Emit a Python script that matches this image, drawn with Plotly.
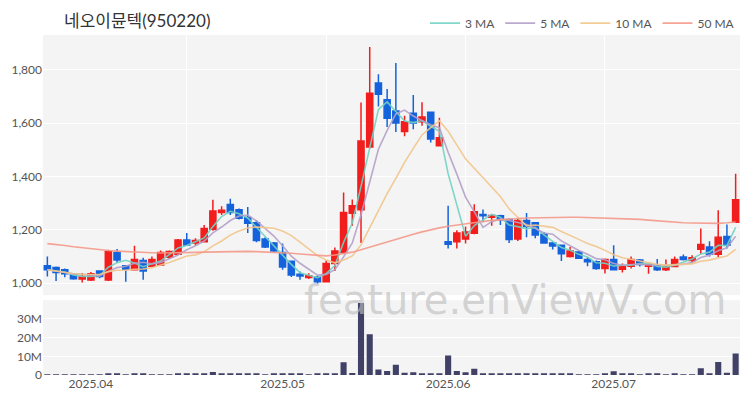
import plotly.graph_objects as go
import pandas as pd

# ---------------- data ----------------
holidays = ['2025-05-01', '2025-05-05', '2025-05-06', '2025-06-03', '2025-06-06']
dates = [d.strftime('%Y-%m-%d') for d in pd.bdate_range('2025-03-25', '2025-07-21')
         if d.strftime('%Y-%m-%d') not in holidays]

open_ = [1065, 1058, 1050, 1032, 1015, 1012, 1045, 1012, 1115, 1065,
         1050, 1085, 1063, 1068, 1097, 1108, 1162, 1150, 1155, 1202,
         1265, 1295, 1275, 1246, 1226, 1165, 1150, 1115, 1082, 1033,
         1021, 1022, 1005, 1073, 1115, 1262, 1275, 1510, 1750, 1687,
         1645, 1568, 1637, 1605, 1640, 1515, 1155, 1155, 1165, 1187,
         1257, 1247, 1252, 1238, 1165, 1235, 1226, 1183, 1150, 1142,
         1100, 1117, 1088, 1080, 1055, 1088, 1052, 1063, 1087, 1063,
         1065, 1050, 1062, 1098, 1085, 1127, 1135, 1108, 1175, 1228]
high = [1100, 1062, 1055, 1038, 1038, 1042, 1048, 1125, 1128, 1067,
        1140, 1095, 1100, 1122, 1122, 1165, 1188, 1168, 1218, 1312,
        1288, 1316, 1280, 1285, 1236, 1172, 1154, 1148, 1085, 1043,
        1037, 1028, 1085, 1133, 1340, 1313, 1677, 1885, 1783, 1728,
        1825, 1627, 1705, 1678, 1640, 1620, 1290, 1198, 1212, 1296,
        1276, 1256, 1256, 1242, 1242, 1263, 1229, 1192, 1154, 1142,
        1135, 1120, 1098, 1085, 1092, 1142, 1073, 1100, 1090, 1069,
        1090, 1088, 1100, 1107, 1104, 1205, 1157, 1273, 1220, 1410]
low = [1025, 1008, 1022, 1013, 1002, 1008, 1018, 1008, 1075, 1005,
       1050, 1013, 1060, 1065, 1090, 1105, 1140, 1142, 1152, 1196,
       1255, 1255, 1238, 1188, 1153, 1132, 1115, 1050, 1023, 1013,
       1015, 998, 1003, 1045, 1110, 1215, 1150, 1505, 1662, 1585,
       1566, 1550, 1577, 1590, 1527, 1512, 1130, 1130, 1148, 1183,
       1228, 1215, 1218, 1150, 1158, 1172, 1168, 1148, 1126, 1083,
       1096, 1090, 1063, 1050, 1036, 1048, 1040, 1055, 1062, 1035,
       1045, 1045, 1060, 1085, 1077, 1108, 1100, 1098, 1130, 1227]
close = [1050, 1040, 1035, 1016, 1025, 1035, 1025, 1118, 1087, 1052,
         1088, 1045, 1088, 1115, 1118, 1162, 1143, 1160, 1205, 1270,
         1273, 1265, 1243, 1224, 1160, 1135, 1120, 1060, 1030, 1027,
         1028, 1005, 1073, 1120, 1265, 1290, 1533, 1712, 1708, 1618,
         1600, 1605, 1600, 1623, 1540, 1545, 1146, 1188, 1192, 1267,
         1252, 1253, 1237, 1163, 1235, 1212, 1180, 1150, 1139, 1110,
         1120, 1093, 1080, 1055, 1088, 1050, 1062, 1088, 1070, 1068,
         1050, 1062, 1088, 1088, 1095, 1145, 1108, 1172, 1142, 1312]
volume = [300000, 250000, 200000, 200000, 250000, 300000, 250000, 900000, 500000, 350000,
          500000, 450000, 300000, 350000, 300000, 500000, 450000, 450000, 800000, 1600000,
          600000, 700000, 500000, 500000, 450000, 350000, 500000, 600000, 550000, 500000,
          350000, 500000, 600000, 600000, 6800000, 1100000, 38500000, 21800000, 3000000, 2200000,
          5500000, 1200000, 1500000, 1000000, 1000000, 800000, 10400000, 2200000, 1500000, 3400000,
          700000, 800000, 600000, 800000, 700000, 700000, 600000, 500000, 600000, 600000,
          500000, 400000, 400000, 400000, 600000, 2000000, 500000, 600000, 400000, 500000,
          600000, 400000, 500000, 400000, 400000, 3600000, 800000, 7000000, 1200000, 11500000]
ma50 = [1148, 1145, 1141, 1136, 1132, 1128, 1125, 1122, 1120, 1118,
        1116, 1115, 1114, 1113, 1113, 1113, 1114, 1115, 1116, 1117,
        1118, 1119, 1119, 1119, 1118, 1117, 1116, 1114, 1112, 1109,
        1106, 1103, 1102, 1105, 1110, 1116, 1125, 1135, 1145, 1155,
        1165, 1174, 1183, 1192, 1200, 1207, 1213, 1218, 1222, 1227,
        1231, 1235, 1238, 1240, 1242, 1244, 1245, 1246, 1247, 1247,
        1247, 1247, 1246, 1246, 1245, 1244, 1243, 1241, 1239, 1236,
        1233, 1230, 1228, 1226, 1225, 1224, 1224, 1224, 1226, 1229]

month_ticks = ['2025-04-01', '2025-05-02', '2025-06-02', '2025-07-01']
month_labels = ['2025.04', '2025.05', '2025.06', '2025.07']
price_ticks = [1000, 1200, 1400, 1600, 1800]
vol_ticks = [0, 10000000, 20000000, 30000000]
vol_labels = ['0', '10M', '20M', '30M']

# ---------------- figure ----------------
RED = '#f21d1d'
BLUE = '#1563dc'
VOL = '#414168'
FONT = 'Lato, Noto Sans CJK KR, sans-serif'

cs = pd.Series(close)
ma3 = cs.rolling(3, min_periods=1).mean().tolist()
ma5 = cs.rolling(5, min_periods=1).mean().tolist()
ma10 = cs.rolling(10, min_periods=1).mean().tolist()

n = len(dates)
xr = [-0.5, n - 0.5]

fig = go.Figure()
fig.add_trace(go.Candlestick(
    x=dates, open=open_, high=high, low=low, close=close,
    increasing=dict(line=dict(color=RED, width=1.5), fillcolor=RED),
    decreasing=dict(line=dict(color=BLUE, width=1.5), fillcolor=BLUE),
    whiskerwidth=0, showlegend=False, xaxis='x', yaxis='y', hoverinfo='skip'))

for name, vals, color in [('3 MA', ma3, '#72d3c4'), ('5 MA', ma5, '#b3a1c9'),
                          ('10 MA', ma10, '#f2c68c'), ('50 MA', ma50, '#f59a8a')]:
    fig.add_trace(go.Scatter(x=dates, y=vals, mode='lines', name=name,
                             line=dict(color=color, width=1.6), opacity=0.9,
                             xaxis='x', yaxis='y'))

fig.add_trace(go.Bar(x=dates, y=volume, marker=dict(color=VOL, line=dict(width=0)),
                     showlegend=False, xaxis='x2', yaxis='y2'))

# the page body adds an 8px offset; margins compensate so the plot sits at x 43-740, y 35-375
fig.update_layout(
    width=750, height=400,
    margin=dict(l=35, r=18, t=27, b=33, autoexpand=False),
    paper_bgcolor='white', plot_bgcolor='#f4f4f4',
    font=dict(family=FONT, size=12, color='#555'),
    bargap=0.3,
    boxgap=0.3, boxgroupgap=0,
    showlegend=True,
    legend=dict(orientation='h', x=1.0, xanchor='right', y=1.035, yanchor='middle',
                font=dict(size=12, color='#555'), bgcolor='rgba(0,0,0,0)',
                itemwidth=30, tracegroupgap=0),
    xaxis=dict(type='category', anchor='y', domain=[0, 1], range=xr, autorange=False,
               rangeslider=dict(visible=False), showticklabels=False,
               tickmode='array', tickvals=[dates[16], dates[32], dates[48], dates[64]],
               showgrid=True, gridcolor='white', gridwidth=1, ticks='', showline=False,
               zeroline=False, automargin=False),
    yaxis=dict(domain=[0.235, 1], range=[955, 1930], tickmode='array', tickvals=price_ticks,
               tickformat=',', showgrid=True, gridcolor='white', gridwidth=1,
               zeroline=False, showline=False, ticks='', automargin=False,
               tickfont=dict(size=12, color='#555')),
    xaxis2=dict(type='category', anchor='y2', domain=[0, 1], range=xr, autorange=False,
                tickmode='array', tickvals=month_ticks, ticktext=month_labels,
                showgrid=False, ticks='', showline=False, zeroline=False, automargin=False,
                tickfont=dict(size=12, color='#555')),
    yaxis2=dict(domain=[0, 0.22], range=[0, 40000000], tickmode='array', tickvals=vol_ticks,
                ticktext=vol_labels, showgrid=True, gridcolor='white', gridwidth=1,
                zeroline=False, showline=False, ticks='', automargin=False,
                tickfont=dict(size=12, color='#555')),
    annotations=[
        dict(text='네오이뮨텍(950220)', xref='paper', yref='paper', x=0.027, y=1.044,
             xanchor='left', yanchor='middle', showarrow=False,
             font=dict(size=17, color='#333', family=FONT)),
        dict(text='feature.enViewV.com', xref='paper', yref='paper', x=0.677, y=0.22,
             xanchor='center', yanchor='middle', showarrow=False,
             font=dict(size=40, color='rgba(190,190,190,0.65)', family='DejaVu Sans')),
    ],
)

fig.write_html('out.html')
